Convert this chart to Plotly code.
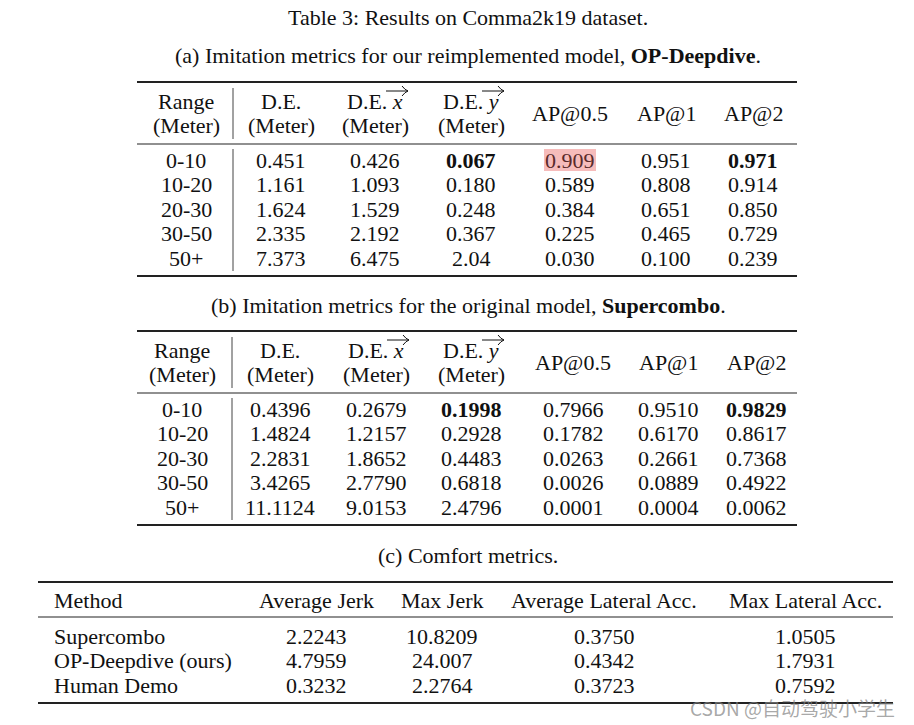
import plotly.graph_objects as go

# ---------------- data ----------------
title = "Table 3: Results on Comma2k19 dataset."
cap_a = "(a) Imitation metrics for our reimplemented model, <b>OP-Deepdive</b>."
cap_b = "(b) Imitation metrics for the original model, <b>Supercombo</b>."
cap_c = "(c) Comfort metrics."

header_top = ["Range", "D.E.", "D.E. <i>x</i>", "D.E. <i>y</i>", "AP@0.5", "AP@1", "AP@2"]
header_bot = ["(Meter)", "(Meter)", "(Meter)", "(Meter)", "", "", ""]

ranges = ["0-10", "10-20", "20-30", "30-50", "50+"]

a_de = ["0.451", "1.161", "1.624", "2.335", "7.373"]
a_dex = ["0.426", "1.093", "1.529", "2.192", "6.475"]
a_dey = ["0.067", "0.180", "0.248", "0.367", "2.04"]
a_ap05 = ["0.909", "0.589", "0.384", "0.225", "0.030"]
a_ap1 = ["0.951", "0.808", "0.651", "0.465", "0.100"]
a_ap2 = ["0.971", "0.914", "0.850", "0.729", "0.239"]

b_de = ["0.4396", "1.4824", "2.2831", "3.4265", "11.1124"]
b_dex = ["0.2679", "1.2157", "1.8652", "2.7790", "9.0153"]
b_dey = ["0.1998", "0.2928", "0.4483", "0.6818", "2.4796"]
b_ap05 = ["0.7966", "0.1782", "0.0263", "0.0026", "0.0001"]
b_ap1 = ["0.9510", "0.6170", "0.2661", "0.0889", "0.0004"]
b_ap2 = ["0.9829", "0.8617", "0.7368", "0.4922", "0.0062"]

bold_cells = [(0, 3), (0, 6)]          # (row, col) bold in tables a and b
highlight_a = (0, 4)                   # highlighted cell in table a

c_header = ["Method", "Average Jerk", "Max Jerk", "Average Lateral Acc.", "Max Lateral Acc."]
c_methods = ["Supercombo", "OP-Deepdive (ours)", "Human Demo"]
c_avg_jerk = ["2.2243", "4.7959", "0.3232"]
c_max_jerk = ["10.8209", "24.007", "2.2764"]
c_avg_lat = ["0.3750", "0.4342", "0.3723"]
c_max_lat = ["1.0505", "1.7931", "0.7592"]

watermark = "CSDN @自动驾驶小学生"

# ---------------- layout helpers ----------------
FONT = "Liberation Serif"
FS = 22
INK = "#111111"

fig = go.Figure()
ann = []
shapes = []


def text(x, y, s, size=FS, anchor="center", color=INK, family=FONT):
    ann.append(dict(x=x, y=y, xref="x", yref="y", text=s, showarrow=False,
                    xanchor=anchor, yanchor="middle",
                    font=dict(family=family, size=size, color=color)))


def hrule(y, x0, x1, w):
    shapes.append(dict(type="line", xref="x", yref="y", x0=x0, x1=x1, y0=y, y1=y,
                       line=dict(color="#222222", width=w)))


def vrule(x, y0, y1):
    shapes.append(dict(type="line", xref="x", yref="y", x0=x, x1=x, y0=y0, y1=y1,
                       line=dict(color="#444444", width=1)))


def arrow_over(xc, y):
    # over-right-arrow above the italic vector symbol
    shapes.append(dict(type="line", xref="x", yref="y", x0=xc - 11, x1=xc + 11, y0=y, y1=y,
                       line=dict(color=INK, width=1)))
    shapes.append(dict(type="path", xref="x", yref="y",
                       path=f"M {xc+5} {y-5} Q {xc+8} {y-1} {xc+11} {y} Q {xc+8} {y+1} {xc+5} {y+5}",
                       line=dict(color=INK, width=1)))


def imitation_table(top, cols, columns, vline_x, highlight=None):
    x0, x1 = 137, 797
    hrule(top, x0, x1, 2)
    h1, h2, hm = top + 19, top + 43, top + 31
    for j, (t, b) in enumerate(zip(header_top, header_bot)):
        if b:
            text(cols[j], h1, t)
            text(cols[j], h2, b)
        else:
            text(cols[j], hm, t)
    # arrows over x and y
    arrow_over(cols[2] + 22, h1 - 10)
    arrow_over(cols[3] + 22, h1 - 10)
    mid = top + 62
    hrule(mid, x0, x1, 1.2)
    rows_y = [mid + 16 + 24.5 * i for i in range(len(ranges))]
    if highlight is not None:
        r, c = highlight
        shapes.append(dict(type="rect", xref="x", yref="y", layer="below",
                           x0=cols[c] - 26, x1=cols[c] + 26,
                           y0=rows_y[r] - 11, y1=rows_y[r] + 11,
                           fillcolor="#f6bcbb", line=dict(width=0)))
    for i, y in enumerate(rows_y):
        text(cols[0], y, ranges[i])
        for j, col in enumerate(columns, start=1):
            s = col[i]
            if (i, j) in bold_cells:
                s = f"<b>{s}</b>"
            color = "#5a2a2a" if highlight == (i, j) else INK
            text(cols[j], y, s, color=color)
    bottom = rows_y[-1] + 18
    hrule(bottom, x0, x1, 2)
    vrule(vline_x, top + 6, mid - 5)
    vrule(vline_x, mid + 5, bottom - 5)


text(468, 17, title)
text(468, 55, cap_a)
imitation_table(82, [186, 281, 375, 471, 570, 666, 753],
                [a_de, a_dex, a_dey, a_ap05, a_ap1, a_ap2], 233, highlight=highlight_a)

text(468, 305, cap_b)
imitation_table(331, [182, 280, 376, 471, 573, 668, 756],
                [b_de, b_dex, b_dey, b_ap05, b_ap1, b_ap2], 232)

text(468, 555, cap_c)
c_top = 582
hrule(c_top, 38, 893, 2)
c_cols = [52, 316, 442, 604, 805]
text(c_cols[0], c_top + 18, c_header[0], anchor="left")
for j in range(1, len(c_header)):
    text(c_cols[j], c_top + 18, c_header[j])
hrule(c_top + 35, 38, 893, 1.2)
c_rows_y = [c_top + 54 + 24.5 * i for i in range(len(c_methods))]
c_vals = [c_avg_jerk, c_max_jerk, c_avg_lat, c_max_lat]
for i, y in enumerate(c_rows_y):
    text(c_cols[0], y, c_methods[i], anchor="left")
    for j, col in enumerate(c_vals, start=1):
        text(c_cols[j], y, col[i])
hrule(c_rows_y[-1] + 18, 38, 893, 2)

text(897, 707, watermark, size=19, anchor="right", color="rgba(130,130,130,0.7)",
     family="Noto Sans CJK SC")

fig.update_layout(
    width=914, height=725,
    margin=dict(l=0, r=0, t=0, b=0),
    paper_bgcolor="white", plot_bgcolor="white",
    xaxis=dict(range=[0, 914], visible=False, fixedrange=True),
    yaxis=dict(range=[725, 0], visible=False, fixedrange=True),
    annotations=ann, shapes=shapes, showlegend=False,
)
fig.write_html("out.html", config={"displayModeBar": False},
               post_script="document.body.style.margin='0';")
